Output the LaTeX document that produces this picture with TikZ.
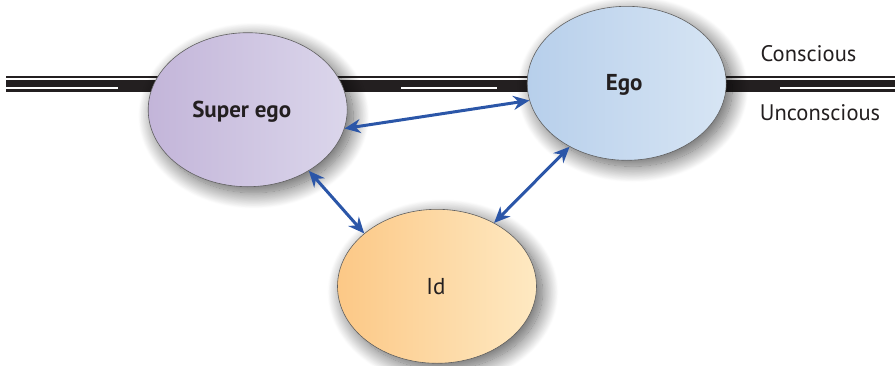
\documentclass[tikz,border=0pt]{standalone}
\usepackage{fontspec}
\setmainfont{PT Sans}
\usetikzlibrary{shapes.geometric,arrows.meta,shadows.blur}
\definecolor{arrowblue}{HTML}{2B56A8}
\definecolor{seL}{HTML}{C3B5D9}
\definecolor{seR}{HTML}{DBD6EB}
\definecolor{egoL}{HTML}{B7CFEB}
\definecolor{egoR}{HTML}{D7E5F4}
\definecolor{idL}{HTML}{FCC886}
\definecolor{idR}{HTML}{FEE9C2}
\definecolor{band}{HTML}{231F20}
\begin{document}
\begin{tikzpicture}[x=1pt,y=-1pt,
  psyche/.style={ellipse, draw=gray!75!black, line width=0.6pt,
    minimum width=199pt, minimum height=154pt, inner sep=0pt,
    blur shadow={shadow xshift=6pt,shadow yshift=-6pt,shadow blur radius=16pt,
      shadow blur steps=24,shadow opacity=65}},
  link/.style={draw=arrowblue, line width=3pt,
    {Stealth[length=16pt,width=14pt]}-{Stealth[length=16pt,width=14pt]}},
  namelbl/.style={anchor=base, text=band, font=\bfseries\fontsize{23}{27}\selectfont},
  sidelbl/.style={anchor=base, text=band, font=\fontsize{22.5}{27}\selectfont}]
\useasboundingbox (0,0) rectangle (895,365);
% conscious / unconscious band
\fill[band] (6,75.7) rectangle (895,78.2);
\fill[band] (6,79.7) rectangle (895,91.7);
\fill[white] (6,86.7) rectangle (118,89);
\fill[white] (401,86.7) rectangle (497,89);
\fill[white] (780,86.7) rectangle (895,89);
% ellipses
\node[psyche, left color=seL, right color=seR] (se) at (247.7,109.7) {};
\node[psyche, left color=egoL, right color=egoR] (ego) at (626.7,83.3) {};
\node[psyche, left color=idL, right color=idR] (id) at (437,286.3) {};
% texts
\node[namelbl] (set) at (241.7,117.3) {Super ego};
\node[namelbl] (egot) at (624.2,90.7) {Ego};
\node[namelbl, font=\fontsize{23}{27}\selectfont] (idt) at (436,294.3) {Id};
\node[sidelbl] (con) at (808.5,61.7) {Conscious};
\node[sidelbl] (uncon) at (820,120) {Unconscious};
% connectors
\draw[link] (se.-11.8) -- (ego.190.8);
\draw[link] (se.-45.3) -- (id.144.3);
\draw[link] (ego.228.9) -- (id.48.9);
\end{tikzpicture}
\end{document}
